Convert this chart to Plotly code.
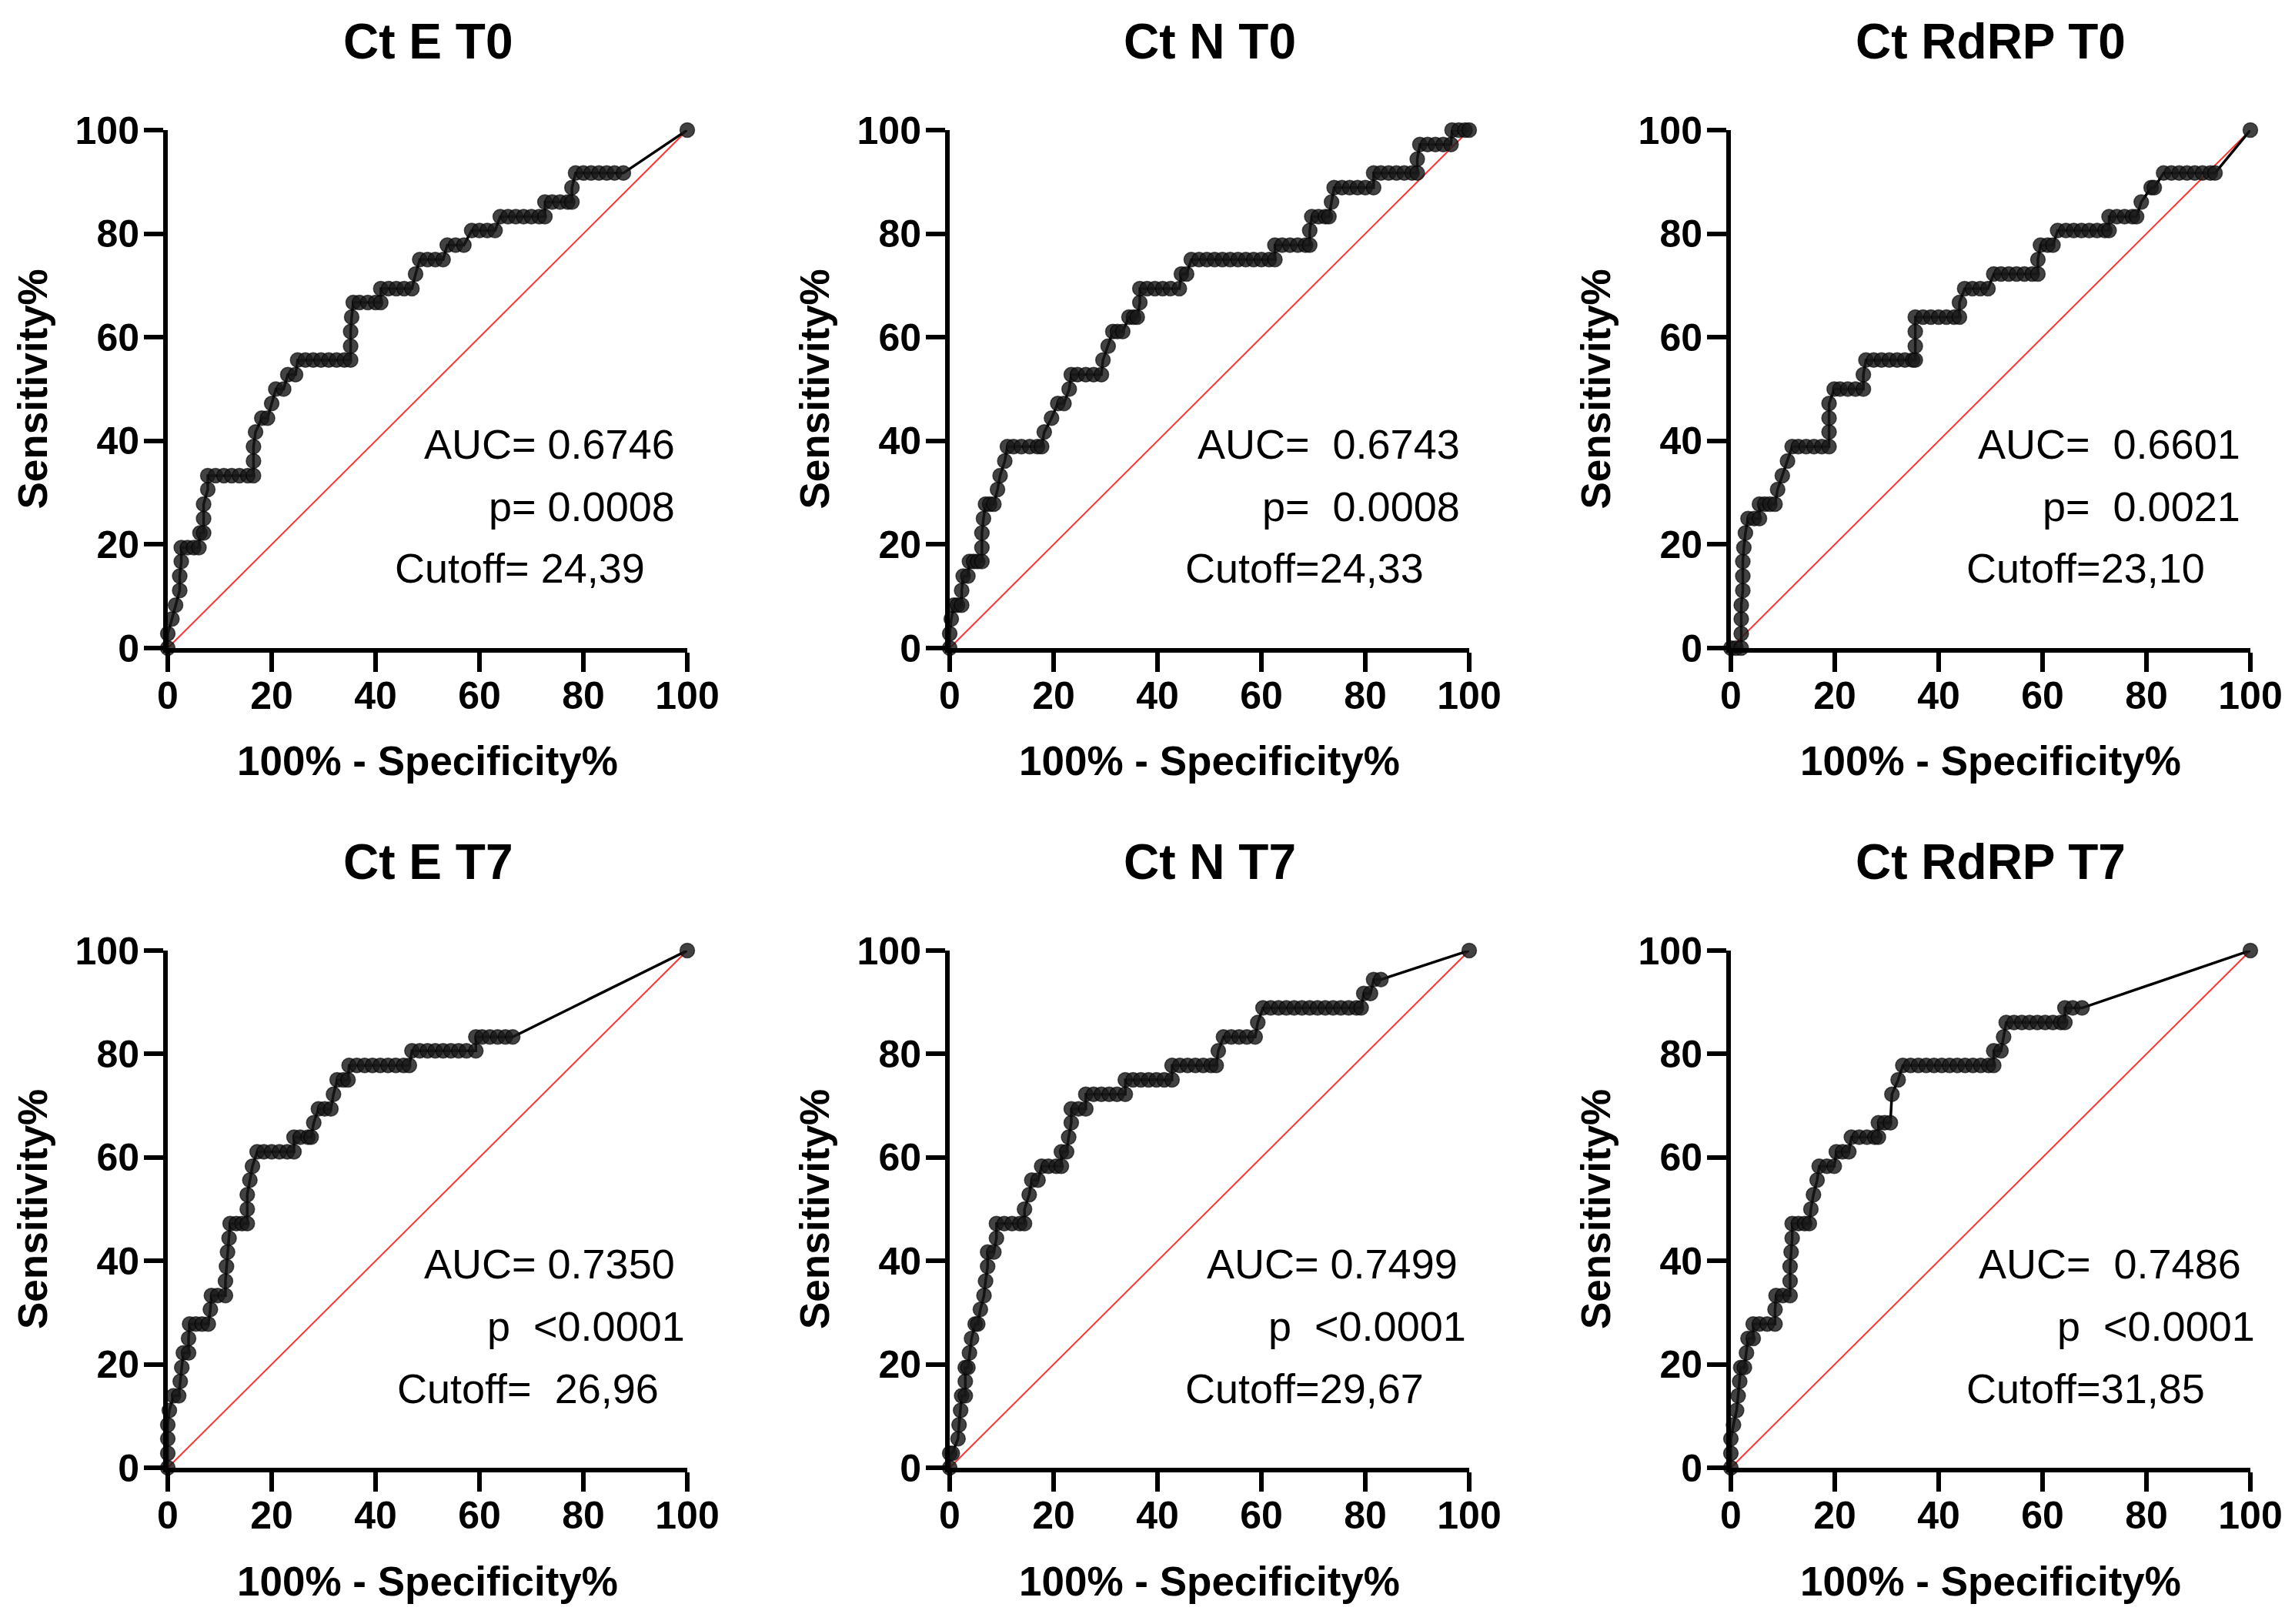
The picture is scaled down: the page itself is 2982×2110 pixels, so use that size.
import plotly.graph_objects as go

# ---------------- data ----------------
TITLES = ["Ct E T0", "Ct N T0", "Ct RdRP T0", "Ct E T7", "Ct N T7", "Ct RdRP T7"]
AUC_TEXT = ["AUC= 0.6746", "AUC=  0.6743", "AUC=  0.6601", "AUC= 0.7350", "AUC= 0.7499", "AUC=  0.7486"]
P_TEXT = ["p= 0.0008", "p=  0.0008", "p=  0.0021", "p  <0.0001", "p  <0.0001", "p  <0.0001"]
CUTOFF_TEXT = ["Cutoff= 24,39", "Cutoff=24,33", "Cutoff=23,10", "Cutoff=  26,96", "Cutoff=29,67", "Cutoff=31,85"]
TICKS = [0, 20, 40, 60, 80, 100]
CHANCE_X = [0, 100]
CHANCE_Y = [0, 100]

E_T0 = [(0,0),(0,2.8),(0.8,5.6),(1.5,8.3),(2.3,11.1),(2.3,13.9),(2.6,16.7),(2.6,19.4),(3.8,19.4),(5.0,19.4),
        (6.0,19.4),(6.2,22.2),(6.9,22.2),(6.9,25.0),(6.9,27.8),(7.7,30.6),(7.7,33.3),(9.2,33.3),(10.8,33.3),
        (12.3,33.3),(13.8,33.3),(15.4,33.3),(16.5,33.3),(16.5,36.1),(16.5,38.9),(16.9,41.7),(18.1,44.4),
        (19.2,44.4),(20.0,47.2),(20.8,50.0),(22.3,50.0),(23.1,52.8),(24.6,52.8),(25.0,55.6),(26.5,55.6),
        (28.0,55.6),(29.5,55.6),(31.0,55.6),(32.5,55.6),(34.0,55.6),(35.2,55.6),(35.2,58.3),(35.2,61.1),
        (35.4,63.9),(35.7,66.7),(36.9,66.7),(38.5,66.7),(40.0,66.7),(41.0,66.7),(41.0,69.4),(42.5,69.4),
        (44.0,69.4),(45.5,69.4),(47.0,69.4),(47.7,72.2),(48.5,75.0),(50.0,75.0),(51.5,75.0),(53.0,75.0),
        (53.8,77.8),(55.4,77.8),(57.0,77.8),(58.5,80.6),(60.0,80.6),(61.5,80.6),(63.0,80.6),(64.0,83.3),
        (65.5,83.3),(67.0,83.3),(68.5,83.3),(70.0,83.3),(71.5,83.3),(72.6,83.3),(72.6,86.1),(74.0,86.1),
        (75.5,86.1),(77.0,86.1),(77.8,86.1),(77.8,88.9),(78.5,91.7),(80.0,91.7),(81.5,91.7),(83.0,91.7),
        (84.5,91.7),(86.0,91.7),(87.7,91.7),(100,100)]

N_T0 = [(0,0),(0,2.8),(0.3,5.6),(0.8,8.3),(1.5,8.3),(2.3,8.3),(2.3,11.1),(2.6,13.9),(3.5,13.9),(3.8,16.7),
        (4.6,16.7),(5.4,16.7),(6.2,16.7),(6.2,19.4),(6.2,22.2),(6.5,25.0),(6.9,27.8),(7.7,27.8),(8.5,27.8),
        (9.2,30.6),(9.7,33.3),(10.6,36.1),(11.1,38.9),(12.3,38.9),(13.8,38.9),(15.4,38.9),(16.9,38.9),
        (17.7,38.9),(18.2,41.7),(19.6,44.4),(20.8,47.2),(22.0,47.2),(23.0,50.0),(23.4,52.8),(24.6,52.8),
        (26.2,52.8),(27.7,52.8),(29.2,52.8),(29.5,55.6),(30.5,58.3),(31.4,61.1),(32.3,61.1),(33.3,61.1),
        (34.5,63.9),(35.4,63.9),(36.1,63.9),(36.6,66.7),(36.6,69.4),(38.0,69.4),(39.5,69.4),(41.0,69.4),
        (42.5,69.4),(44.2,69.4),(44.6,72.2),(45.6,72.2),(46.5,75.0),(48.0,75.0),(49.5,75.0),(51.0,75.0),
        (52.5,75.0),(54.0,75.0),(55.5,75.0),(57.0,75.0),(58.5,75.0),(60.0,75.0),(61.5,75.0),(62.6,75.0),
        (62.6,77.8),(64.0,77.8),(65.5,77.8),(67.0,77.8),(68.5,77.8),(69.3,77.8),(69.3,80.6),(69.7,83.3),
        (71.0,83.3),(72.3,83.3),(73.0,83.3),(73.5,86.1),(74.0,88.9),(75.5,88.9),(77.0,88.9),(78.5,88.9),
        (80.0,88.9),(81.6,88.9),(81.6,91.7),(83.0,91.7),(84.5,91.7),(86.0,91.7),(87.5,91.7),(89.0,91.7),
        (90.0,91.7),(90.0,94.4),(90.5,97.2),(92.0,97.2),(93.5,97.2),(95.0,97.2),(96.5,97.2),(96.7,100),
        (98.0,100),(99.2,100),(100,100)]

RDRP_T0 = [(0,0),(1.0,0),(2.0,0),(2.0,2.8),(2.0,5.6),(2.0,8.3),(2.3,11.1),(2.3,13.9),(2.3,16.7),(2.5,19.4),
           (2.8,22.2),(3.3,25.0),(4.5,25.0),(5.5,25.0),(5.5,27.8),(6.5,27.8),(7.5,27.8),(8.5,27.8),(9.0,30.6),
           (9.9,33.3),(10.9,36.1),(11.8,38.9),(13.0,38.9),(14.5,38.9),(16.0,38.9),(17.5,38.9),(18.9,38.9),
           (18.9,41.7),(18.9,44.4),(18.9,47.2),(19.9,50.0),(21.0,50.0),(22.5,50.0),(24.0,50.0),(25.5,50.0),
           (25.5,52.8),(26.0,55.6),(27.5,55.6),(29.0,55.6),(30.5,55.6),(32.0,55.6),(33.5,55.6),(35.0,55.6),
           (35.5,55.6),(35.5,58.3),(35.5,61.1),(35.5,63.9),(37.0,63.9),(38.5,63.9),(40.0,63.9),(41.5,63.9),
           (43.0,63.9),(44.0,63.9),(44.0,66.7),(45.0,69.4),(46.5,69.4),(48.0,69.4),(49.5,69.4),(50.6,72.2),
           (52.0,72.2),(53.5,72.2),(55.0,72.2),(56.5,72.2),(58.0,72.2),(59.1,72.2),(59.1,75.0),(59.6,77.8),
           (61.0,77.8),(62.0,77.8),(62.9,80.6),(64.5,80.6),(66.0,80.6),(67.5,80.6),(69.0,80.6),(70.5,80.6),
           (72.0,80.6),(72.8,80.6),(72.8,83.3),(74.3,83.3),(75.8,83.3),(77.3,83.3),(78.1,83.3),(79.0,86.1),
           (80.9,88.9),(81.5,88.9),(83.3,91.7),(84.8,91.7),(86.3,91.7),(87.8,91.7),(89.3,91.7),(90.8,91.7),
           (92.3,91.7),(93.2,91.7),(100,100)]

E_T7 = [(0,0),(0,2.8),(0,5.6),(0,8.3),(0.3,11.1),(1.1,13.9),(2.1,13.9),(2.4,16.7),(2.7,19.4),(3.0,22.2),
        (4.0,22.2),(4.0,25.0),(4.2,27.8),(5.4,27.8),(6.6,27.8),(7.8,27.8),(8.2,30.6),(8.4,33.3),(9.6,33.3),
        (11.1,33.3),(11.1,36.1),(11.3,38.9),(11.5,41.7),(11.8,44.4),(12.0,47.2),(13.2,47.2),(14.3,47.2),
        (15.3,47.2),(15.3,50.0),(15.3,52.8),(15.8,55.6),(16.3,58.3),(17.2,61.1),(18.5,61.1),(20.0,61.1),
        (21.5,61.1),(23.0,61.1),(24.3,61.1),(24.3,63.9),(25.5,63.9),(27.0,63.9),(27.6,63.9),(28.1,66.7),
        (29.0,69.4),(30.2,69.4),(31.4,69.4),(31.9,72.2),(32.6,75.0),(33.8,75.0),(34.7,75.0),(34.9,77.8),
        (36.4,77.8),(37.9,77.8),(39.4,77.8),(40.9,77.8),(42.4,77.8),(43.9,77.8),(45.4,77.8),(46.5,77.8),
        (47.0,80.6),(48.5,80.6),(50.0,80.6),(51.5,80.6),(53.0,80.6),(54.5,80.6),(56.0,80.6),(57.5,80.6),
        (59.3,80.6),(59.3,83.3),(60.5,83.3),(62.0,83.3),(63.5,83.3),(65.0,83.3),(66.4,83.3),(100,100)]

N_T7 = [(0,0),(0,2.8),(0.5,2.8),(1.6,5.6),(1.8,8.3),(2.1,11.1),(2.3,13.9),(3.0,13.9),(3.0,16.7),(3.0,19.4),
        (3.5,19.4),(3.8,22.2),(4.2,25.0),(4.9,27.8),(5.4,27.8),(5.9,30.6),(6.6,33.3),(6.9,36.1),(7.3,38.9),
        (7.3,41.7),(8.5,41.7),(9.0,44.4),(9.0,47.2),(10.5,47.2),(12.0,47.2),(13.5,47.2),(14.4,47.2),
        (14.4,50.0),(15.3,52.8),(15.8,55.6),(17.0,55.6),(17.7,58.3),(19.0,58.3),(20.5,58.3),(21.5,58.3),
        (21.5,61.1),(22.5,61.1),(22.9,63.9),(23.4,66.7),(23.4,69.4),(24.8,69.4),(26.2,69.4),(26.2,72.2),
        (27.7,72.2),(29.2,72.2),(30.7,72.2),(32.2,72.2),(33.8,72.2),(33.8,75.0),(35.3,75.0),(36.8,75.0),
        (38.3,75.0),(39.8,75.0),(41.3,75.0),(42.8,75.0),(42.8,77.8),(44.3,77.8),(45.8,77.8),(47.3,77.8),
        (48.8,77.8),(50.3,77.8),(51.3,77.8),(51.7,80.6),(52.7,83.3),(54.2,83.3),(55.7,83.3),(57.2,83.3),
        (58.8,83.3),(59.3,86.1),(60.3,88.9),(61.8,88.9),(63.3,88.9),(64.8,88.9),(66.3,88.9),(67.8,88.9),
        (69.3,88.9),(70.8,88.9),(72.3,88.9),(73.8,88.9),(75.3,88.9),(76.8,88.9),(78.3,88.9),(79.2,88.9),
        (79.7,91.7),(81.0,91.7),(81.6,94.4),(83.0,94.4),(100,100)]

RDRP_T7 = [(0,0),(0,2.8),(0,5.6),(0.5,8.3),(1.1,11.1),(1.4,13.9),(1.7,16.7),(1.9,19.4),(2.6,19.4),(3.0,22.2),
           (3.3,25.0),(4.3,25.0),(4.3,27.8),(5.5,27.8),(7.0,27.8),(8.5,27.8),(8.5,30.6),(8.7,33.3),(10.0,33.3),
           (11.4,33.3),(11.4,36.1),(11.4,38.9),(11.6,41.7),(11.8,44.4),(11.8,47.2),(13.0,47.2),(14.2,47.2),
           (15.1,47.2),(15.4,50.0),(15.9,52.8),(16.6,55.6),(17.0,58.3),(18.5,58.3),(19.9,58.3),(20.3,61.1),
           (21.5,61.1),(22.7,61.1),(23.2,63.9),(24.7,63.9),(26.2,63.9),(27.7,63.9),(28.4,63.9),(28.4,66.7),
           (29.6,66.7),(30.7,66.7),(31.0,72.2),(32.2,75.0),(33.1,77.8),(34.6,77.8),(36.1,77.8),(37.6,77.8),
           (39.1,77.8),(40.6,77.8),(42.1,77.8),(43.6,77.8),(45.1,77.8),(46.6,77.8),(48.1,77.8),(49.6,77.8),
           (50.6,77.8),(50.6,80.6),(52.0,80.6),(52.5,83.3),(53.0,86.1),(54.5,86.1),(56.0,86.1),(57.5,86.1),
           (59.0,86.1),(60.5,86.1),(62.0,86.1),(63.5,86.1),(64.3,86.1),(64.3,88.9),(65.8,88.9),(67.6,88.9),
           (100,100)]

CURVES = [E_T0, N_T0, RDRP_T0, E_T7, N_T7, RDRP_T7]

# ---------------- layout ----------------
W, H = 2982, 2110
OFF = 8  # page body margin offset in px
X_PX = [(218, 893), (1234, 1909), (2249, 2924)]
Y_PX = [(169, 842), (1235, 1907)]  # (top, bottom) from page top
X_DOMAINS = [((a - OFF) / W, (b - OFF) / W) for a, b in X_PX]
Y_DOMAINS = [(1 - (b - OFF) / H, 1 - (a - OFF) / H) for a, b in Y_PX]
PX_PER_UNIT = 675 / 100
TEXT_X = [(97.9, 97.9, 92.2), (98.5, 98.5, 91.5), (98.4, 98.4, 91.5),
          (97.9, 99.8, 94.8), (98.0, 99.7, 91.6), (98.5, 101.2, 91.5)]
TEXT_Y = (39.4, 27.4, 15.4)

FONT = "Liberation Sans, Arial, Helvetica, sans-serif"
fig = go.Figure()
annotations = []

for i, pts in enumerate(CURVES):
    row, col = divmod(i, 3)
    n = i + 1
    xa = "x" if n == 1 else f"x{n}"
    ya = "y" if n == 1 else f"y{n}"
    xs = [p[0] for p in pts]
    ys = [p[1] for p in pts]

    fig.add_trace(go.Scatter(x=CHANCE_X, y=CHANCE_Y, mode="lines",
                             line=dict(color="rgb(255,50,50)", width=2),
                             xaxis=xa, yaxis=ya, showlegend=False, hoverinfo="skip",
                             cliponaxis=False))
    fig.add_trace(go.Scatter(x=xs, y=ys, mode="lines+markers",
                             line=dict(color="black", width=3.5),
                             marker=dict(size=19, color="rgba(25,25,25,0.82)",
                                         line=dict(width=1.5, color="rgba(0,0,0,0.6)")),
                             xaxis=xa, yaxis=ya, showlegend=False, cliponaxis=False))

    axis_common = dict(range=[0, 100], tickvals=TICKS, ticks="outside", ticklen=25, tickwidth=6,
                       tickcolor="black", showline=True, linewidth=6, linecolor="black",
                       showgrid=False, zeroline=False, automargin=False,
                       tickfont=dict(family=FONT, size=50, color="black", weight="bold"))
    fig.layout[f"xaxis{'' if n == 1 else n}"] = dict(domain=list(X_DOMAINS[col]), anchor=ya,
                                                      ticklabelstandoff=-12, **axis_common)
    fig.layout[f"yaxis{'' if n == 1 else n}"] = dict(domain=list(Y_DOMAINS[row]), anchor=xa,
                                                      ticklabelstandoff=-4, **axis_common)

    xd = f"{xa} domain"
    yd = f"{ya} domain"
    annotations.append(dict(text=f"<b>{TITLES[i]}</b>", xref=xd, yref=yd, x=0.5, y=1, yshift=115,
                            xanchor="center", yanchor="middle", showarrow=False,
                            font=dict(family=FONT, size=64, color="black")))
    annotations.append(dict(text="<b>100% - Specificity%</b>", xref=xd, yref=yd, x=0.5, y=0, yshift=-147,
                            xanchor="center", yanchor="middle", showarrow=False,
                            font=dict(family=FONT, size=53, color="black")))
    annotations.append(dict(text="<b>Sensitivity%</b>", xref=xd, yref=yd, x=0, y=0.5, xshift=-176,
                            xanchor="center", yanchor="middle", textangle=-90, showarrow=False,
                            font=dict(family=FONT, size=53, color="black")))
    for txt, tx, ty in zip((AUC_TEXT[i], P_TEXT[i], CUTOFF_TEXT[i]), TEXT_X[i], TEXT_Y):
        shift = max(0.0, tx - 100) * PX_PER_UNIT
        annotations.append(dict(text=txt.replace("  ", "\u00a0\u00a0"), xref=xa, yref=ya,
                                x=min(tx, 100), y=ty, xshift=shift,
                                xanchor="right", yanchor="middle", showarrow=False,
                                font=dict(family=FONT, size=54, color="black")))

fig.update_layout(template="none", width=W, height=H, margin=dict(l=0, r=0, t=0, b=0, pad=0),
                  paper_bgcolor="white", plot_bgcolor="white",
                  annotations=annotations, showlegend=False)

fig.write_html("out.html")
